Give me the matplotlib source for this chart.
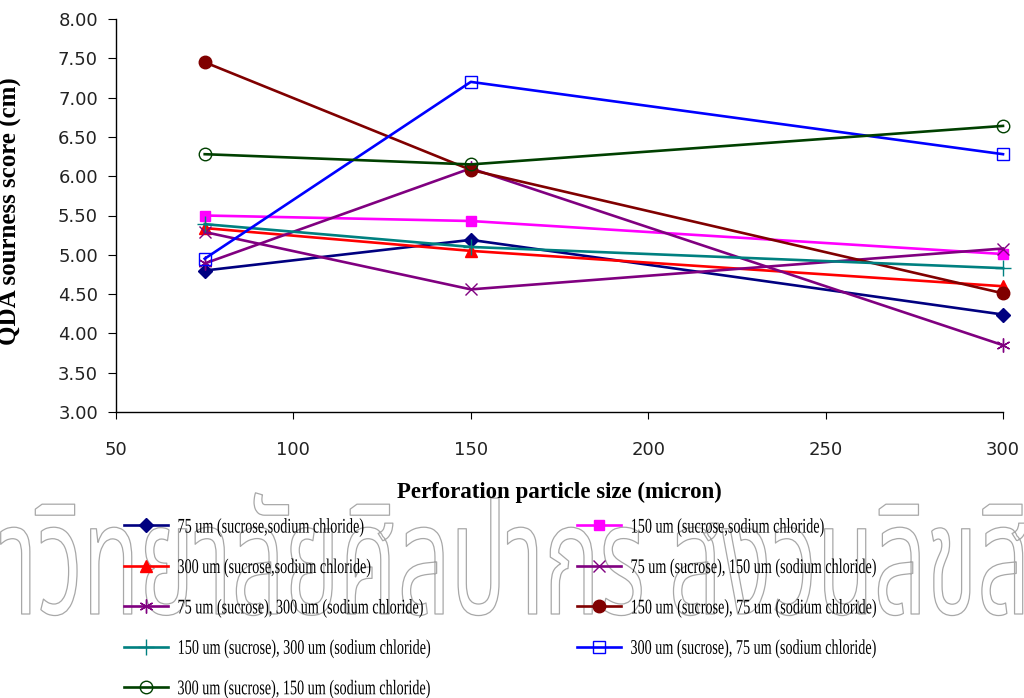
import matplotlib
matplotlib.use("Agg")
import matplotlib.pyplot as plt
from matplotlib import font_manager, ft2font
from matplotlib.patheffects import AbstractPathEffect
from matplotlib.transforms import Affine2D

# Perforation particle sizes (micron)
particle_size = [75, 150, 300]

# QDA sourness scores (cm) per treatment
s_75_both = [4.80, 5.19, 4.24]
s_150_both = [5.50, 5.43, 5.01]
s_300_both = [5.34, 5.05, 4.60]
s_75suc_150nacl = [5.29, 4.56, 5.08]
s_75suc_300nacl = [4.89, 6.10, 3.85]
s_150suc_75nacl = [7.45, 6.08, 4.51]
s_150suc_300nacl = [5.39, 5.10, 4.83]
s_300suc_75nacl = [4.95, 7.20, 6.28]
s_300suc_150nacl = [6.28, 6.15, 6.64]

labels = [
    "75 um (sucrose,sodium chloride)",
    "150 um (sucrose,sodium chloride)",
    "300 um (sucrose,sodium chloride)",
    "75 um (sucrose), 150 um (sodium chloride)",
    "75 um (sucrose), 300 um (sodium chloride)",
    "150 um (sucrose), 75 um (sodium chloride)",
    "150 um (sucrose), 300 um (sodium chloride)",
    "300 um (sucrose), 75 um (sodium chloride)",
    "300 um (sucrose), 150 um (sodium chloride)",
]
series = [s_75_both, s_150_both, s_300_both, s_75suc_150nacl, s_75suc_300nacl,
          s_150suc_75nacl, s_150suc_300nacl, s_300suc_75nacl, s_300suc_150nacl]

y_ticks = [3.0, 3.5, 4.0, 4.5, 5.0, 5.5, 6.0, 6.5, 7.0, 7.5, 8.0]
x_ticks = [50, 100, 150, 200, 250, 300]

watermark = "มหาวิทยาลัยศิลปากร สงวนลิขสิทธิ์"

asterisk = (6, 2, 0)
styles = [
    dict(color="#000080", marker="D", ms=7, mfc="#000080", mec="#000080"),
    dict(color="#FF00FF", marker="s", ms=7, mfc="#FF00FF", mec="#FF00FF"),
    dict(color="#FF0000", marker="^", ms=9, mfc="#FF0000", mec="#FF0000"),
    dict(color="#800080", marker="x", ms=9, mew=1.0),
    dict(color="#800080", marker=asterisk, ms=10, mew=1.0),
    dict(color="#800000", marker="o", ms=9, mfc="#800000", mec="#800000"),
    dict(color="#008080", marker="+", ms=11, mew=1.0),
    dict(color="#0000FF", marker="s", ms=9, mfc="none", mec="#0000FF", mew=1.0),
    dict(color="#004000", marker="o", ms=9, mfc="none", mec="#004000", mew=1.0),
]


class Narrow(AbstractPathEffect):
    """Squeeze glyph outlines horizontally; optionally draw them as outlines."""

    def __init__(self, factor, anchor="left", outline=None, outline_width=0.8):
        super().__init__()
        self.factor = factor
        self.anchor = anchor
        self.outline = outline
        self.outline_width = outline_width

    def draw_path(self, renderer, gc, tpath, affine, rgbFace=None):
        ext = tpath.get_extents()
        cx = ext.x0 if self.anchor == "left" else 0.5 * (ext.x0 + ext.x1)
        squeeze = Affine2D().translate(-cx, 0).scale(self.factor, 1).translate(cx, 0)
        if self.outline is None:
            renderer.draw_path(gc, tpath, squeeze + affine, rgbFace)
        else:
            gc0 = renderer.new_gc()
            gc0.copy_properties(gc)
            gc0.set_foreground(self.outline)
            gc0.set_linewidth(self.outline_width)
            renderer.draw_path(gc0, tpath, squeeze + affine, None)
            gc0.restore()


def thai_family():
    found = []
    for f in font_manager.fontManager.ttflist:
        try:
            cmap = ft2font.FT2Font(f.fname).get_charmap()
        except Exception:
            continue
        if all(ord(c) in cmap for c in "วิทยาลัยศ"):
            found.append(f.name)
    if not found:
        return None
    for pref in ("Noto Sans Thai", "Noto Sans Thai UI", "Sawasdee", "Loma",
                 "Waree", "Umpush", "Garuda"):
        if pref in found:
            return pref
    plain = [n for n in found if "Looped" not in n]
    return plain[0] if plain else found[0]


W, H = 1024, 698
fig = plt.figure(figsize=(W / 100, H / 100), dpi=100)
fig.patch.set_facecolor("white")

ax = fig.add_axes([116 / W, 1 - 412 / H, (1003 - 116) / W, (412 - 19) / H])

for vals, lab, st in zip(series, labels, styles):
    ax.plot(particle_size, vals, lw=1.9, label=lab, clip_on=False, **st)

ax.set_xlim(50, 300)
ax.set_ylim(3.0, 8.0)
ax.set_xticks(x_ticks)
ax.set_yticks(y_ticks)
ax.set_yticklabels([f"{v:.2f}" for v in y_ticks])
for side in ("top", "right"):
    ax.spines[side].set_visible(False)
for side in ("left", "bottom"):
    ax.spines[side].set_linewidth(1.0)
ax.tick_params(axis="both", direction="out", width=0.8, labelsize=13,
               colors="black")
ax.tick_params(axis="y", length=6, pad=7)
ax.tick_params(axis="x", length=5, pad=16)
for t in ax.get_xticklabels() + ax.get_yticklabels():
    t.set_fontfamily("DejaVu Sans")
    t.set_color("#222222")

ax.set_ylabel("QDA sourness score (cm)", fontfamily="Liberation Serif",
              fontweight="bold", fontsize=18)
ax.yaxis.set_label_coords(-0.106, 0.51)
ax.set_xlabel("Perforation particle size (micron)", fontfamily="Liberation Serif",
              fontweight="bold", fontsize=16.5)
ax.xaxis.label.set_va("center")
ax.xaxis.set_label_coords(0.5, (412 - 492) / (412 - 19))

# Legend laid out in two columns
handles = ax.get_lines()
leg_kw = dict(frameon=False, loc="upper left", borderpad=0, borderaxespad=0,
              handlelength=2.1, handletextpad=0.45, labelspacing=1.0,
              prop={"family": "Liberation Serif", "size": 15}, numpoints=1)
col1 = [0, 2, 4, 6, 8]
col2 = [1, 3, 5, 7]
leg1 = fig.legend([handles[i] for i in col1], [labels[i] for i in col1],
                  bbox_to_anchor=(124 / W, 1 - 518 / H), **leg_kw)
leg2 = fig.legend([handles[i] for i in col2], [labels[i] for i in col2],
                  bbox_to_anchor=(577 / W, 1 - 518 / H), **leg_kw)
for lg in (leg1, leg2):
    for t in lg.get_texts():
        t.set_path_effects([Narrow(0.68, "left")])

# Copyright mark behind the legend, drawn as grey outlines
fam = thai_family()
if fam is not None:
    fig.text(-117 / W, 1 - 614 / H, watermark, fontfamily=fam, fontsize=112,
             color="white", ha="left", va="baseline", zorder=-1,
             path_effects=[Narrow(0.595, "left", outline="#a8a8a8",
                                  outline_width=0.9)])

fig.savefig("out.png", dpi=100, facecolor="white")
